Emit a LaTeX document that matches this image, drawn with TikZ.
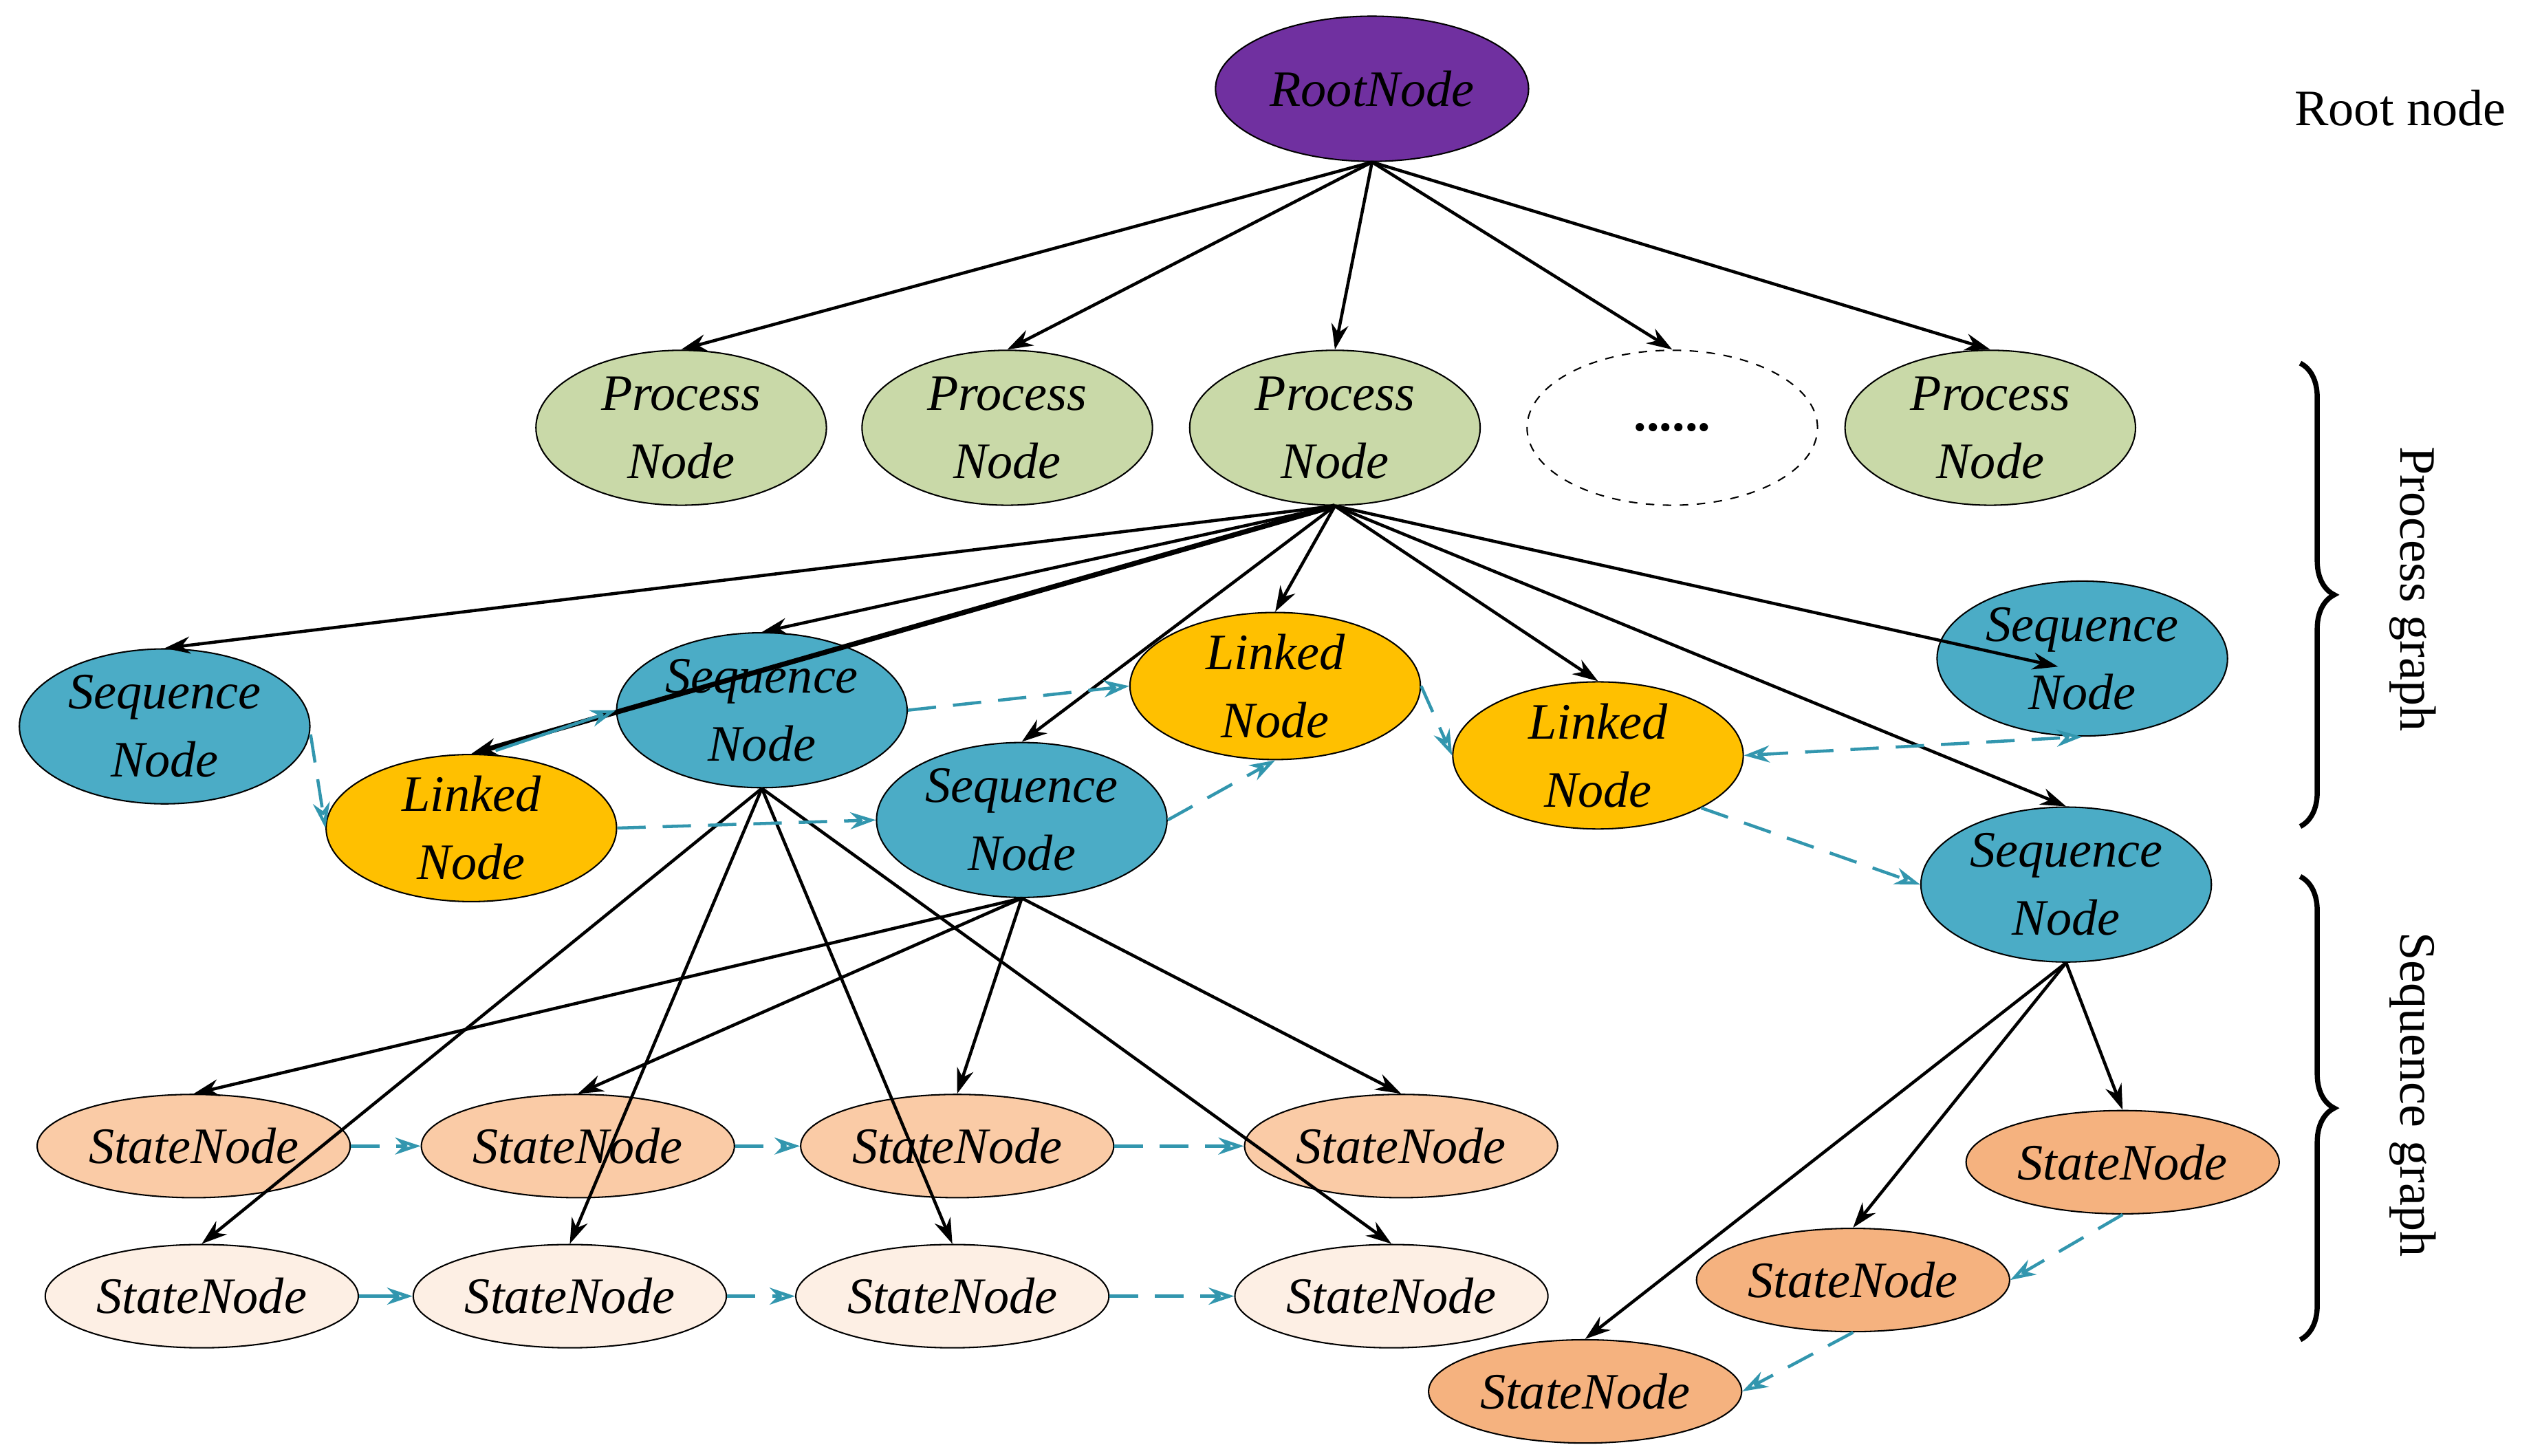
\documentclass[tikz,border=0pt]{standalone}
\usepackage{fontspec}
\setmainfont{Liberation Serif}
\usetikzlibrary{shapes.geometric,arrows.meta,decorations.pathreplacing}
\definecolor{purp}{HTML}{7030A0}
\definecolor{pgreen}{HTML}{C9D9A8}
\definecolor{sblue}{HTML}{4BACC6}
\definecolor{lgold}{HTML}{FFC000}
\definecolor{st1}{HTML}{FACBA6}
\definecolor{st2}{HTML}{FDEFE4}
\definecolor{st3}{HTML}{F5B27F}
\definecolor{dblue}{HTML}{3296AE}
\begin{document}
\begin{tikzpicture}[x=0.02cm,y=-0.02cm,
  every node/.style={font=\fontsize{18}{24}\selectfont\itshape},
  el/.style={ellipse,draw,line width=0.5pt,inner sep=0pt,align=center},
  pn/.style={el,fill=pgreen,minimum width=3.6cm,minimum height=1.92cm},
  sn/.style={el,fill=sblue,minimum width=3.6cm,minimum height=1.92cm},
  ln/.style={el,fill=lgold,minimum width=3.6cm,minimum height=1.56cm},
  stn/.style={el,minimum width=3.88cm,minimum height=1.28cm},
  ar/.style={-{Stealth[length=9pt,width=6pt]},line width=1.1pt},
  da/.style={-{Stealth[length=9pt,width=6pt,open]},dblue,line width=1.1pt,dash pattern=on 10pt off 6pt}]
\useasboundingbox (0,0) rectangle (1568,902);
\node[el,fill=purp,minimum width=3.88cm,minimum height=1.8cm] (root) at (850,55) {RootNode};
\node[pn] (p1) at (422,265) {Process\\Node};
\node[pn] (p2) at (624,265) {Process\\Node};
\node[pn] (p3) at (827,265) {Process\\Node};
\node[el,dashed,fill=white,minimum width=3.6cm,minimum height=1.92cm,font=\fontsize{18}{24}\selectfont\bfseries] (pd) at (1036,265) {......};
\node[pn] (p5) at (1233,265) {Process\\Node};
\node[sn] (s1) at (102,450) {Sequence\\Node};
\node[sn] (s2) at (472,440) {Sequence\\Node};
\node[sn] (s3) at (633,508) {Sequence\\Node};
\node[sn] (s4) at (1290,408) {Sequence\\Node};
\node[sn] (s5) at (1280,548) {Sequence\\Node};
\node[ln] (l1) at (292,513) {Linked\\Node};
\node[ln] (l2) at (790,425) {Linked\\Node};
\node[ln] (l3) at (990,468) {Linked\\Node};
\foreach \i/\x in {1/120,2/358,3/593,4/868} \node[stn,fill=st1] (a\i) at (\x,710) {StateNode};
\foreach \i/\x in {1/125,2/353,3/590,4/862} \node[stn,fill=st2] (b\i) at (\x,803) {StateNode};
\node[stn,fill=st3] (c1) at (1315,720) {StateNode};
\node[stn,fill=st3] (c2) at (1148,793) {StateNode};
\node[stn,fill=st3] (c3) at (982,862) {StateNode};
% root edges
\foreach \n in {p1,p2,p3,pd,p5} \draw[ar] (root.south) -- (\n.north);
% process edges
\draw[ar] (p3.south) -- (s1.north);
\draw[ar] (p3.south) -- (s2.north);
\draw[ar,line width=1.8pt] (p3.south) -- (l1.north);
\draw[ar] (p3.south) -- (s3.north);
\draw[ar] (p3.south) -- (l2.north);
\draw[ar] (p3.south) -- (l3.north);
\draw[ar] (p3.south) -- ([xshift=-0.3cm,yshift=-0.1cm]s4.center);
\draw[ar] (p3.south) -- (s5.north);
% sequence edges
\foreach \n in {b1,b2,b3,b4} \draw[ar] (s2.south) -- (\n.north);
\foreach \n in {a1,a2,a3,a4} \draw[ar] (s3.south) -- (\n.north);
\foreach \n in {c1,c2,c3} \draw[ar] (s5.south) -- (\n.north);
% dashed
\coordinate (s1e) at ([yshift=-0.1cm]s1.east);
\coordinate (l1n) at ([xshift=0.3cm,yshift=0.04cm]l1.north);
\draw[da] (s1e) -- (l1.west);
\draw[da,solid] (l1n) -- (s2.west);
\draw[da] (l1.east) -- (s3.west);
\draw[da] (s2.east) -- (l2.west);
\draw[da] (s3.east) -- (l2.south);
\draw[da] (l2.east) -- (l3.west);
\draw[da,{Stealth[length=9pt,width=6pt,open]}-{Stealth[length=9pt,width=6pt,open]}] (l3.east) -- (s4.south);
\draw[da] (l3.south east) -- (s5.west);
\draw[da] (a1) -- (a2); \draw[da] (a2) -- (a3); \draw[da] (a3) -- (a4);
\draw[da,solid] (b1) -- (b2); \draw[da] (b2) -- (b3); \draw[da] (b3) -- (b4);
\draw[da] (c1.south) -- (c2.east);
\draw[da] (c2.south) -- (c3.east);
% labels
\node[font=\fontsize{18}{24}\selectfont] (lr) at (1487,67) {Root node};
\coordinate (bp1) at (1425,225); \coordinate (bp2) at (1425,512);
\coordinate (bs1) at (1425,543); \coordinate (bs2) at (1425,830);
\draw[line width=1.8pt,decorate,decoration={brace,amplitude=12pt}] (bp1) -- (bp2);
\draw[line width=1.8pt,decorate,decoration={brace,amplitude=12pt}] (bs1) -- (bs2);
\node[font=\fontsize{18}{24}\selectfont,rotate=-90] (lp) at (1495,365) {Process graph};
\node[font=\fontsize{18}{24}\selectfont,rotate=-90] (ls) at (1495,678) {Sequence graph};
\end{tikzpicture}
\end{document}
